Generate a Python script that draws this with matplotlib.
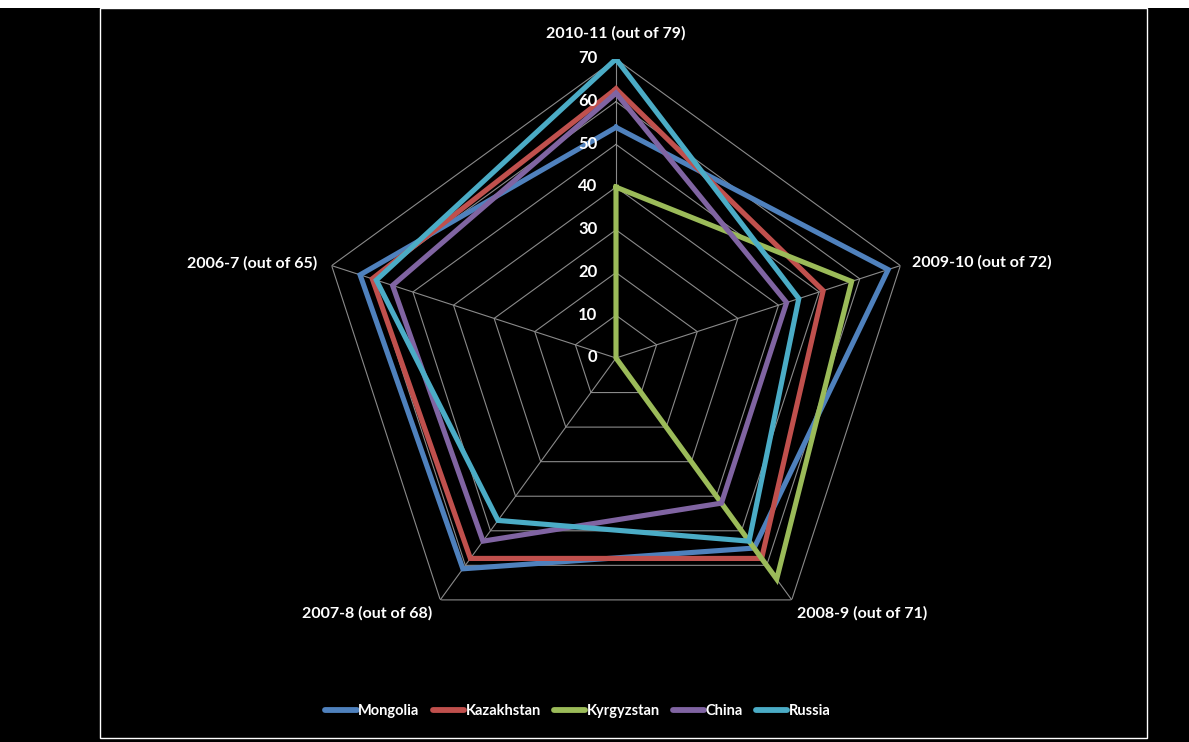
import numpy as np
import matplotlib
matplotlib.use("Agg")
import matplotlib.pyplot as plt
from matplotlib.patches import Rectangle
from matplotlib.lines import Line2D

# Rankings by season (axes run clockwise from the top)
seasons = ["2010-11 (out of 79)", "2009-10 (out of 72)", "2008-9 (out of 71)",
           "2007-8 (out of 68)", "2006-7 (out of 65)"]
countries = ["Mongolia", "Kazakhstan", "Kyrgyzstan", "China", "Russia"]
mongolia = [54, 67, 55, 61, 63]
kazakhstan = [63, 51, 58, 58, 60]
kyrgyzstan = [40, 58, 64, 0, 0]
china = [62, 42, 42, 53, 55]
russia = [70, 45, 53, 47, 59]
series = [mongolia, kazakhstan, kyrgyzstan, china, russia]
colors = ["#4F81BD", "#C0504D", "#9BBB59", "#8064A2", "#4BACC6"]
rings = [0, 10, 20, 30, 40, 50, 60, 70]

plt.rcParams["font.family"] = ["Lato", "DejaVu Sans"]
plt.rcParams["font.weight"] = "bold"

W, H = 1189, 742
fig = plt.figure(figsize=(W / 100, H / 100), dpi=100, facecolor="black")

# page strip and chart frame
fig.patches.append(Rectangle((0, 1 - 8 / H), 1, 8 / H, transform=fig.transFigure,
                             facecolor="white", edgecolor="none", zorder=0))
fig.patches.append(Rectangle((100 / W, 1 - 738 / H), (1147 - 100) / W, (738 - 8) / H,
                             transform=fig.transFigure, facecolor="none",
                             edgecolor="white", lw=1.0, zorder=1))

cx, cy, R = 616, 358, 299
ax = fig.add_axes([(cx - R) / W, (H - cy - R) / H, 2 * R / W, 2 * R / H],
                  projection="polar")
ax.set_facecolor("none")
ax.set_theta_offset(np.pi / 2)
ax.set_theta_direction(-1)
ax.set_ylim(0, rings[-1])
ax.grid(False)
ax.set_xticks([])
ax.set_yticks([])
ax.spines["polar"].set_visible(False)

n = len(seasons)
theta = np.arange(n) * 2 * np.pi / n
theta_c = np.append(theta, theta[0])

grid_col = "#8a8a8a"
for r in rings[1:]:
    ax.plot(theta_c, [r] * (n + 1), color=grid_col, lw=0.8, zorder=1)
for t in theta:
    ax.plot([t, t], [0, rings[-1]], color=grid_col, lw=0.8, zorder=1)

for vals, col, name in zip(series, colors, countries):
    ax.plot(theta_c, vals + vals[:1], color=col, lw=3.7, label=name,
            solid_joinstyle="miter", zorder=3)

# radial value labels
for r in rings:
    ax.annotate(str(r), xy=(0, r), xytext=(-13.5, 0.5), textcoords="offset points",
                ha="right", va="center", color="white", fontsize=12,
                fontweight="bold", annotation_clip=False, zorder=4)

# season labels at each spoke end
offsets = [(0, 18.5, "center"), (8.5, 2, "left"), (4, -9.5, "left"),
           (-6, -9.5, "right"), (-10, 1.5, "right")]
for t, lab, (dx, dy, ha) in zip(theta, seasons, offsets):
    ax.annotate(lab, xy=(t, rings[-1]), xytext=(dx, dy), textcoords="offset points",
                ha=ha, va="center", color="white", fontsize=11.5,
                fontweight="bold", annotation_clip=False)

handles = [Line2D([], [], color=c, lw=4.2, solid_capstyle="round") for c in colors]
leg = fig.legend(handles, countries, loc="center", bbox_to_anchor=(578 / W, 1 - 711 / H),
                 ncol=5, frameon=False, fontsize=10.5, handlelength=2.15,
                 handletextpad=0.1, columnspacing=0.9)
for txt in leg.get_texts():
    txt.set_color("white")
    txt.set_fontweight("bold")

fig.savefig("out.png", dpi=100, facecolor="black")
